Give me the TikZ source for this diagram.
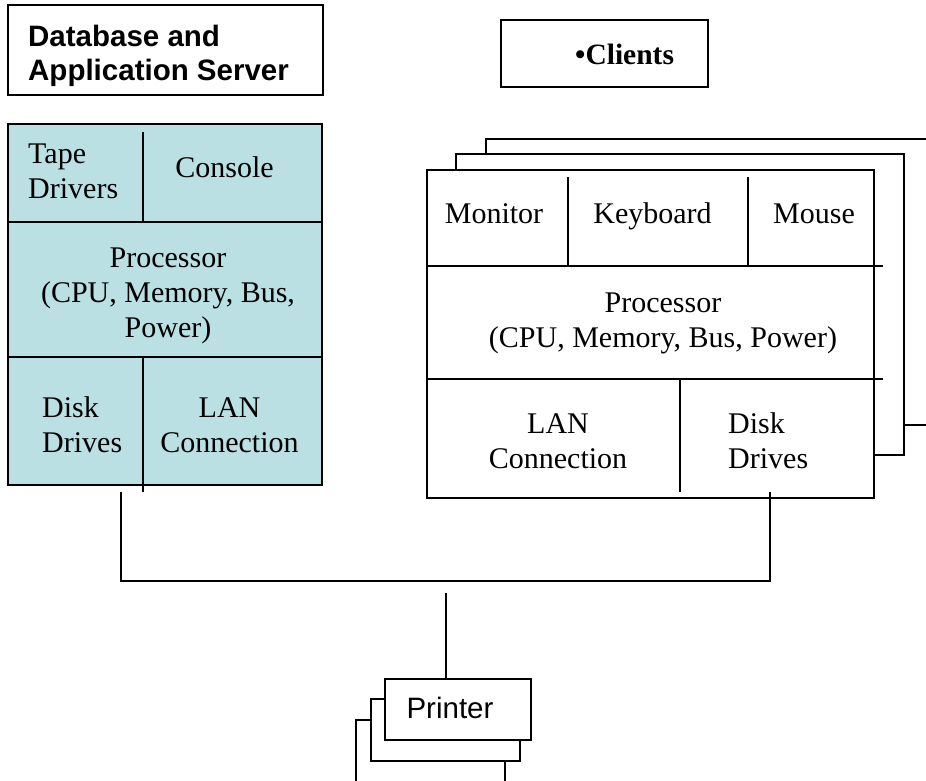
\documentclass[tikz,border=0pt]{standalone}
\usepackage{fontspec}
\setmainfont{Liberation Serif}
\newfontfamily\arialfont{Liberation Sans}
\usetikzlibrary{fit}

\definecolor{srvfill}{RGB}{186,224,227}

% rows of text whose baseline is the baseline of the first row
\newcommand\txtrows[2]{\begin{tabular}[t]{@{}#1@{}}#2\end{tabular}}

\tikzset{
  box/.style={draw=black, line width=1.6pt, inner sep=0pt, fit={#1}},
  rule/.style={draw=black, line width=1.6pt},
  wire/.style={draw=black, line width=1.6pt},
  serif/.style={inner sep=0pt, font=\fontsize{30}{35}\selectfont},
  sans/.style={inner sep=0pt, font=\arialfont\fontsize{29.5}{34}\selectfont},
}

\begin{document}
\begin{tikzpicture}[x=1pt, y=-1pt]
\useasboundingbox (0,0) rectangle (926,780);
\fill[white] (0,0) rectangle (926,780);
\clip (0,0) rectangle (926,780);

% ---------- headings ----------
\node[box={(8,5) (323,95)}] (titlebox) {};
\node[sans, font=\arialfont\bfseries\fontsize{29.5}{34}\selectfont, anchor=base west]
  (titletxt) at (28,46) {\txtrows{l}{Database and\\Application Server}};

\node[box={(501,20) (708,87)}] (clientsbox) {};
\node[serif, font=\bfseries\fontsize{29.5}{34}\selectfont, anchor=base west]
  (clientstxt) at (575,64) {•Clients};

% ---------- server ----------
\node[box={(8,124) (322,485)}, fill=srvfill] (server) {};
\draw[rule] (8,222) -- (322,222);
\draw[rule] (8,357) -- (322,357);
\draw[rule] (143,132) -- (143,222);
\draw[rule] (143,357) -- (143,492);

\node[serif, anchor=base west] (tape) at (28,163) {\txtrows{l}{Tape\\Drivers}};
\node[serif, anchor=base] (console) at (224.5,177) {Console};
\node[serif, anchor=base] (srvproc) at (168,267)
  {\txtrows{c}{Processor\\(CPU, Memory, Bus,\\Power)}};
\node[serif, anchor=base west] (srvdisk) at (42,417) {\txtrows{l}{Disk\\Drives}};
\node[serif, anchor=base] (srvlan) at (229.5,417) {\txtrows{c}{LAN\\Connection}};

% ---------- client stack ----------
\draw[rule] (486,154) -- (486,139) -- (930,139);
\draw[rule] (904,425) -- (930,425);
\draw[rule] (456,170) -- (456,154) -- (904,154) -- (904,455) -- (874,455);
\node[box={(427,170) (874,498)}, fill=white] (client) {};
\draw[rule] (427,266) -- (883,266);
\draw[rule] (427,379) -- (883,379);
\draw[rule] (568,177) -- (568,266);
\draw[rule] (748,177) -- (748,266);
\draw[rule] (680,379) -- (680,492);

\node[serif, anchor=base] (monitor) at (494,223) {Monitor};
\node[serif, anchor=base] (keyboard) at (652.5,223) {Keyboard};
\node[serif, anchor=base] (mouse) at (814,223) {Mouse};
\node[serif, anchor=base] (cliproc) at (663,312)
  {\txtrows{c}{Processor\\(CPU, Memory, Bus, Power)}};
\node[serif, anchor=base] (clilan) at (558,433) {\txtrows{c}{LAN\\Connection}};
\node[serif, anchor=base west] (clidisk) at (728,433) {\txtrows{l}{Disk\\Drives}};

% ---------- network ----------
\coordinate (srvport) at (121,492);
\coordinate (cliport) at (770,492);
\coordinate (busleft) at (121,581);
\draw[wire] (srvport) -- (busleft) -| (cliport);

% ---------- printers ----------
\draw[rule] (371,720) -- (356,720) -- (356,790);
\draw[rule] (505,761) -- (505,790);
\draw[rule] (385,699) -- (371,699) -- (371,761) -- (520,761) -- (520,740);
\node[box={(385,679) (531,740)}, fill=white] (printer) {};
\node[sans, anchor=base] (printertxt) at (450,718) {Printer};

\coordinate (prfeed) at (446,593);
\draw[wire] (prfeed) -- (prfeed |- printer.north);
\end{tikzpicture}
\end{document}
